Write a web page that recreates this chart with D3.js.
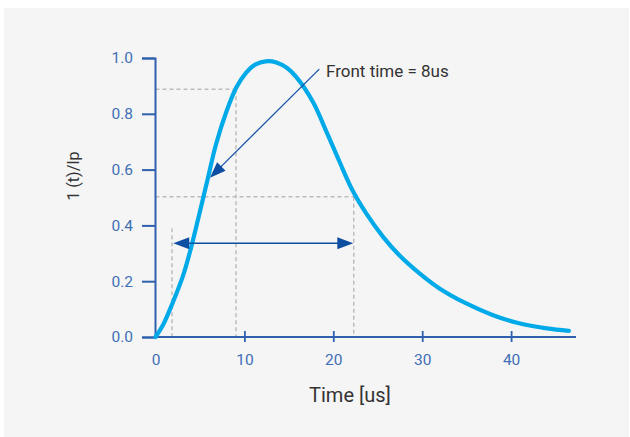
<!DOCTYPE html>
<html>
<head>
<meta charset="utf-8">
<script src="https://cdn.jsdelivr.net/npm/d3@7/dist/d3.min.js"></script>
<style>
  html, body { margin: 0; padding: 0; background: #ffffff; }
  svg { display: block; }
  text { font-family: Roboto, "Open Sans", sans-serif; }
</style>
</head>
<body>
<svg id="chart" width="630" height="437"></svg>
<script>
// ---- data ----
const timeUs = [0, 0.8, 1.9, 3.1, 4.0, 5.0, 5.9, 6.8, 8.0, 9.1, 10.2, 11.2, 12.4, 13.6, 14.8, 15.8, 17.7, 19.2, 20.7, 22.2, 23.7, 25.6, 27.4, 29.7, 31.9, 34.9, 37.9, 40.9, 44.0, 46.5];
const current = [0, 0.04, 0.12, 0.22, 0.32, 0.45, 0.57, 0.69, 0.81, 0.895, 0.948, 0.976, 0.988, 0.984, 0.964, 0.933, 0.843, 0.738, 0.628, 0.523, 0.443, 0.359, 0.294, 0.228, 0.175, 0.121, 0.079, 0.049, 0.031, 0.022];
const xTicks = [0, 10, 20, 30, 40];
const yTicks = [0, 0.2, 0.4, 0.6, 0.8, 1.0];
// guide lines
const guideTimes = [1.86, 9.05, 22.3];
const guideTops = [0.39, 0.888, 0.503];
const guideLevels = [0.888, 0.503];
const guideLevelEnds = [9.05, 22.3];
// double arrow span
const spanTimes = [2.0, 22.25];
const spanLevel = 0.336;
// pointer arrow: [from, to]
const pointerTimes = [18.42, 6.13];
const pointerLevels = [0.96, 0.571];
const annotationText = "Front time = 8us";
const xTitle = "Time [us]";
const yTitle = "1 (t)/Ip";

// ---- drawing ----
const svg = d3.select("#chart");
svg.append("rect").attr("x", 4).attr("y", 8).attr("width", 625).attr("height", 429).attr("fill", "#f5f5f5");

const x = d3.scaleLinear().domain([0, 47.3]).range([155.5, 576]);
const y = d3.scaleLinear().domain([0, 1]).range([337, 58]);

const axisColor = "#2e60ad";
const labelColor = "#3f6fb6";
const guideColor = "#bdbdbd";
const arrowColor = "#0d4ea3";

// guides
const g = svg.append("g");
guideLevels.forEach((lv, i) => {
  g.append("line").attr("x1", x(0)).attr("x2", x(guideLevelEnds[i]))
    .attr("y1", y(lv)).attr("y2", y(lv))
    .attr("stroke", guideColor).attr("stroke-width", 1.5).attr("stroke-dasharray", "4,3");
});
guideTimes.forEach((t, i) => {
  g.append("line").attr("x1", x(t)).attr("x2", x(t))
    .attr("y1", y(guideTops[i])).attr("y2", y(0))
    .attr("stroke", guideColor).attr("stroke-width", 1.5).attr("stroke-dasharray", "4,3");
});

// y axis
const yAxis = d3.axisLeft(y).tickValues(yTicks).tickFormat(d3.format(".1f"))
  .tickSize(13).tickPadding(9);
const yg = svg.append("g").attr("transform", "translate(155,0)").call(yAxis);
yg.select(".domain").attr("stroke", axisColor).attr("stroke-width", 2);
yg.selectAll(".tick line").attr("stroke", axisColor).attr("stroke-width", 2);
yg.selectAll(".tick text").attr("fill", labelColor).attr("font-size", 15.5)
  .attr("font-family", "Roboto, sans-serif");

// x axis
const xAxis = d3.axisBottom(x).tickValues(xTicks).tickFormat(d3.format("d"))
  .tickSize(5).tickSizeOuter(0).tickPadding(12);
const xg = svg.append("g").attr("transform", "translate(0,337)").call(xAxis);
xg.select(".domain").attr("stroke", axisColor).attr("stroke-width", 2).attr("d", `M${x(0) - 1.5},0H576`);
xg.selectAll(".tick line").attr("stroke", axisColor).attr("stroke-width", 1.8)
  .attr("y1", -6).attr("y2", 5).attr("opacity", d => d === 0 ? 0 : 1);
xg.selectAll(".tick text").attr("fill", labelColor).attr("font-size", 15.5)
  .attr("font-family", "Roboto, sans-serif").attr("dy", "0.72em");

// curve
const pts = timeUs.map((t, i) => [t, current[i]]);
svg.append("path").datum(pts)
  .attr("d", d3.line().x(d => x(d[0])).y(d => y(d[1])).curve(d3.curveCatmullRom.alpha(0.5)))
  .attr("fill", "none").attr("stroke", "#00a9e8").attr("stroke-width", 4.2)
  .attr("stroke-linecap", "round").attr("stroke-linejoin", "round");

// arrows
function arrowHead(tipX, tipY, fromX, fromY, len, half) {
  const dx = tipX - fromX, dy = tipY - fromY;
  const L = Math.hypot(dx, dy);
  const ux = dx / L, uy = dy / L;
  const bx = tipX - ux * len, by = tipY - uy * len;
  const px = -uy, py = ux;
  return `M${tipX},${tipY}L${bx + px * half},${by + py * half}L${bx - px * half},${by - py * half}Z`;
}
const a = svg.append("g");
const sx0 = x(spanTimes[0]), sx1 = x(spanTimes[1]), sy = y(spanLevel);
a.append("line").attr("x1", sx0 + 8).attr("x2", sx1 - 8).attr("y1", sy).attr("y2", sy)
  .attr("stroke", arrowColor).attr("stroke-width", 1.5);
a.append("path").attr("d", arrowHead(sx0, sy, sx1, sy, 16, 6)).attr("fill", arrowColor);
a.append("path").attr("d", arrowHead(sx1, sy, sx0, sy, 16, 6)).attr("fill", arrowColor);

const px0 = x(pointerTimes[0]), py0 = y(pointerLevels[0]);
const px1 = x(pointerTimes[1]), py1 = y(pointerLevels[1]);
a.append("line").attr("x1", px0).attr("y1", py0).attr("x2", px1 + 6).attr("y2", py1 - 6)
  .attr("stroke", arrowColor).attr("stroke-width", 1.2);
a.append("path").attr("d", arrowHead(px1, py1, px0, py0, 16, 6)).attr("fill", arrowColor);

// texts
svg.append("text").attr("x", 326).attr("y", 76.5).attr("font-size", 17)
  .attr("fill", "#333").text(annotationText);
svg.append("text").attr("x", 350).attr("y", 401.5).attr("text-anchor", "middle")
  .attr("font-size", 20).attr("fill", "#333").text(xTitle);
svg.append("text").attr("transform", "translate(79,176) rotate(-90)")
  .attr("text-anchor", "middle").attr("font-size", 16).attr("fill", "#333").text(yTitle);
</script>
</body>
</html>
